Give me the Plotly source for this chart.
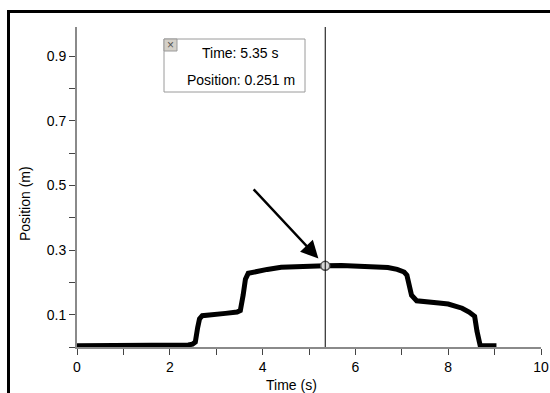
import plotly.graph_objects as go

# ---- data ----
time_s = [0.0, 0.5, 1.0, 1.5, 2.0, 2.3, 2.4, 2.49, 2.55, 2.6, 2.64, 2.7, 2.8, 3.0, 3.2, 3.45, 3.52,
          3.58, 3.63, 3.69, 3.9, 4.1, 4.4, 4.8, 5.1, 5.35, 5.7, 6.0, 6.4, 6.7, 6.9, 7.05, 7.11,
          7.16, 7.21, 7.32, 7.5, 7.8, 8.0, 8.15, 8.3, 8.45, 8.57, 8.62, 8.66, 8.69, 8.8, 8.95, 9.04]
position_m = [0.004, 0.004, 0.003, 0.004, 0.003, 0.004, 0.006, 0.009, 0.015, 0.06, 0.087, 0.097,
              0.099, 0.102, 0.104, 0.108, 0.113, 0.16, 0.21, 0.228, 0.235, 0.240, 0.247, 0.250,
              0.252, 0.251, 0.252, 0.251, 0.249, 0.246, 0.240, 0.232, 0.222, 0.19, 0.16, 0.143,
              0.139, 0.136, 0.133, 0.128, 0.120, 0.108, 0.095, 0.049, 0.015, 0.004, 0.004, 0.006, 0.004]

cursor_t = 5.35
cursor_pos = 0.251

x_tickvals = list(range(0, 11))
x_ticktext = [str(v) if v % 2 == 0 else "" for v in x_tickvals]
y_tickvals = [round(0.1 * i, 1) for i in range(0, 10)]
y_ticktext = ["", "0.1", "", "0.3", "", "0.5", "", "0.7", "", "0.9"]

# ---- layout geometry (pixels) ----
W, H = 550, 393
ML, MR, MT, MB = 77, 9, 27, 46
PW, PH = W - ML - MR, H - MT - MB


def px(xp):
    return (xp - ML) / PW


def py(yp):
    return (H - MB - yp) / PH


FONT = "Arial, Liberation Sans, sans-serif"

fig = go.Figure()
fig.add_trace(go.Scatter(x=time_s, y=position_m, mode="lines",
                         line=dict(color="black", width=5), hoverinfo="skip"))
fig.add_trace(go.Scatter(x=[cursor_t], y=[cursor_pos], mode="markers",
                         marker=dict(size=9, color="#d8d8d8", symbol="circle",
                                     line=dict(color="#555555", width=1.5)),
                         cliponaxis=False, hoverinfo="skip"))

shapes = [
    # cursor line
    dict(type="line", xref="x", yref="paper", x0=cursor_t, x1=cursor_t, y0=0, y1=1,
         line=dict(color="black", width=1), layer="above"),
    # outer frame (top and left edges only; the rest lies outside the window)
    dict(type="line", xref="paper", yref="paper", x0=px(7), x1=px(W + 5), y0=py(11.5), y1=py(11.5),
         line=dict(color="black", width=3)),
    dict(type="line", xref="paper", yref="paper", x0=px(8.5), x1=px(8.5), y0=py(10), y1=py(H + 5),
         line=dict(color="black", width=3)),
    # tooltip box
    dict(type="rect", xref="paper", yref="paper", x0=px(164), x1=px(305), y0=py(92), y1=py(39),
         line=dict(color="#9a9a9a", width=1), fillcolor="white"),
    # close button
    dict(type="rect", xref="paper", yref="paper", x0=px(164), x1=px(177), y0=py(51), y1=py(39),
         line=dict(color="#9a9a9a", width=1), fillcolor="#d4d0c8"),
]

annotations = [
    dict(xref="paper", yref="paper", x=px(170.5), y=py(45), text="×", showarrow=False,
         font=dict(family=FONT, size=12, color="#555555"), xanchor="center", yanchor="middle"),
    dict(xref="paper", yref="paper", x=px(240), y=py(53), text=f"Time: {cursor_t:.2f} s",
         showarrow=False, font=dict(family=FONT, size=14, color="black"),
         xanchor="center", yanchor="middle"),
    dict(xref="paper", yref="paper", x=px(241), y=py(80), text=f"Position: {cursor_pos:.3f} m",
         showarrow=False, font=dict(family=FONT, size=14, color="black"),
         xanchor="center", yanchor="middle"),
    dict(xref="paper", yref="paper", x=px(25), y=py(204), text="Position (m)", textangle=-90,
         showarrow=False, font=dict(family=FONT, size=14, color="black"),
         xanchor="center", yanchor="middle"),
    dict(xref="paper", yref="paper", x=px(291), y=py(385), text="Time (s)",
         showarrow=False, font=dict(family=FONT, size=14, color="black"),
         xanchor="center", yanchor="middle"),
    # arrow pointing at the cursor point
    dict(x=cursor_t, y=cursor_pos, xref="x", yref="y", ax=-73, ay=-78, text="",
         showarrow=True, arrowhead=2, arrowsize=1.4, arrowwidth=2.5, arrowcolor="black",
         standoff=10),
]

fig.update_layout(
    width=W, height=H, autosize=False,
    margin=dict(l=ML, r=MR, t=MT, b=MB, pad=0, autoexpand=False),
    paper_bgcolor="white", plot_bgcolor="white",
    showlegend=False,
    shapes=shapes, annotations=annotations,
    font=dict(family=FONT, size=14, color="black"),
    xaxis=dict(range=[0, 10], tickvals=x_tickvals, ticktext=x_ticktext, showgrid=False,
               zeroline=False, showline=True, linecolor="#8a8a8a", linewidth=2,
               ticks="outside", ticklen=6, tickwidth=1, tickcolor="#444444", automargin=False,
               tickfont=dict(family=FONT, size=14, color="black"), fixedrange=True),
    yaxis=dict(range=[0, 0.99], tickvals=y_tickvals, ticktext=y_ticktext, showgrid=False,
               zeroline=False, showline=True, linecolor="#8a8a8a", linewidth=2,
               ticks="outside", ticklen=6, tickwidth=1, tickcolor="#444444", automargin=False,
               tickfont=dict(family=FONT, size=14, color="black"), fixedrange=True),
)

fig.write_html("out.html", config={"displayModeBar": False, "responsive": False},
               post_script="document.body.style.margin='0';document.body.style.overflow='hidden';")
